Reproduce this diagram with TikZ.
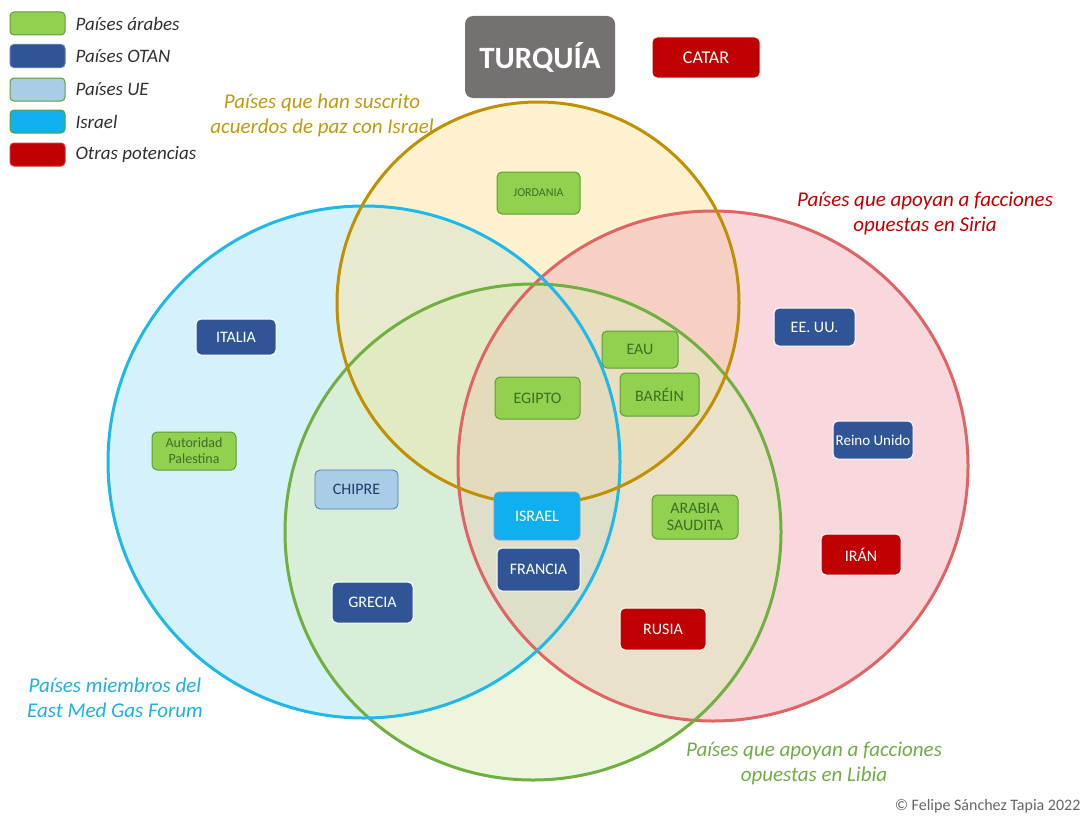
\documentclass[tikz,border=0pt]{standalone}
\usepackage{fontspec}
\setmainfont{Carlito}
\definecolor{cBlueF}{HTML}{ACE4F7}
\definecolor{cYelF}{HTML}{FBE3A1}
\definecolor{cRedF}{HTML}{F1B1B9}
\definecolor{cGrnF}{HTML}{DCEBB9}
\definecolor{cBlueL}{HTML}{1FB8EA}
\definecolor{cYelL}{HTML}{C09000}
\definecolor{cRedL}{HTML}{E06464}
\definecolor{cGrnL}{HTML}{70B040}
\definecolor{arab}{HTML}{92D050}
\definecolor{arabB}{HTML}{5E9E34}
\definecolor{arabT}{HTML}{3E6E22}
\definecolor{otan}{HTML}{2F5597}
\definecolor{ue}{HTML}{A9CDE6}
\definecolor{ueB}{HTML}{4A7AC0}
\definecolor{isr}{HTML}{10B0F0}
\definecolor{otra}{HTML}{C00000}
\definecolor{turq}{HTML}{767171}
\definecolor{legT}{HTML}{303030}
\definecolor{labY}{HTML}{C09A10}
\definecolor{labR}{HTML}{C00000}
\definecolor{labB}{HTML}{20B0E0}
\definecolor{labG}{HTML}{70AD47}
\tikzset{
  box/.style={rounded corners=5pt, minimum width=#1, inner sep=1pt, align=center, font=\fontsize{16}{17}\selectfont},
  arabbox/.style={box=#1, fill=arab, draw=arabB, line width=1pt, text=arabT},
  otanbox/.style={box=#1, fill=otan, draw=white, line width=1pt, text=white},
  uebox/.style={box=#1, fill=ue, draw=ueB, line width=0.8pt, text=otan!70!black},
  isrbox/.style={box=#1, fill=isr, draw=otan!60, line width=0.8pt, text=white},
  otrabox/.style={box=#1, fill=otra, draw=white, line width=1pt, text=white},
  legbox/.style={rounded corners=4pt, minimum width=55pt, minimum height=23pt, line width=1pt},
  legtext/.style={anchor=west, font=\itshape\fontsize{19}{20}\selectfont, text=legT},
  setlab/.style={align=center, font=\itshape\fontsize{21}{25}\selectfont},
  circ/.style={line width=3pt}
}
\begin{document}
\begin{tikzpicture}[x=1pt,y=-1pt]
\useasboundingbox (0,0) rectangle (1086,816);
% circle fills
\begin{scope}[fill opacity=0.5]
\fill[cBlueF] (364,462) circle (256);
\fill[cYelF] (538,303) circle (201);
\fill[cRedF] (713,466) circle (255);
\fill[cGrnF] (533,532) circle (248);
\end{scope}
% circle outlines
\draw[circ, cRedL] (713,466) circle (255);
\draw[circ, cGrnL] (533,532) circle (248);
\draw[circ, cBlueL] (364,462) circle (256);
\draw[circ, cYelL] (538,303) circle (201);
% legend
\node[legbox, fill=arab, draw=arabB] (l1) at (37.5,23.5) {};
\node[legbox, fill=otan, draw=otan!80] (l2) at (37.5,56) {};
\node[legbox, fill=ue, draw=arabB] (l3) at (37.5,89.5) {};
\node[legbox, fill=isr, draw=arabB] (l4) at (37.5,121.5) {};
\node[legbox, fill=otra, draw=otra!80] (l5) at (37.5,154.5) {};
\node[legtext] (t1) at (72,23.5) {Países árabes};
\node[legtext] (t2) at (72,56) {Países OTAN};
\node[legtext] (t3) at (72,89.5) {Países UE};
\node[legtext] (t4) at (72,121.5) {Israel};
\node[legtext] (t5) at (72,154.5) {Otras potencias};
% top boxes
\node[rounded corners=8pt, fill=turq, minimum width=150pt, minimum height=82pt, text=white, font=\bfseries\fontsize{31}{33}\selectfont] (turquia) at (540,57) {TURQUÍA};
\node[otrabox=108pt, minimum height=41pt, font=\fontsize{18}{19}\selectfont] (catar) at (706,57.5) {CATAR};
% country boxes
\node[arabbox=83pt, minimum height=42pt, font=\fontsize{12}{13}\selectfont] (jordania) at (538.5,193) {JORDANIA};
\node[arabbox=76pt, minimum height=37pt] (eau) at (640,349.5) {EAU};
\node[arabbox=79pt, minimum height=43pt] (barein) at (659.5,394.5) {BARÉIN};
\node[arabbox=85pt, minimum height=42pt] (egipto) at (537.5,398) {EGIPTO};
\node[otanbox=80pt, minimum height=36pt] (italia) at (236,337) {ITALIA};
\node[arabbox=84pt, minimum height=38pt, font=\fontsize{14}{16}\selectfont] (ap) at (194,451) {Autoridad\\Palestina};
\node[uebox=83pt, minimum height=39pt] (chipre) at (356.5,489.5) {CHIPRE};
\node[otanbox=81pt, minimum height=41pt] (grecia) at (372.5,602.5) {GRECIA};
\node[isrbox=86pt, minimum height=48pt] (israel) at (537,516) {ISRAEL};
\node[otanbox=83pt, minimum height=43pt] (francia) at (538.5,569.5) {FRANCIA};
\node[arabbox=86pt, minimum height=44pt, font=\fontsize{16}{17}\selectfont] (arabia) at (695,517) {ARABIA\\SAUDITA};
\node[otrabox=86pt, minimum height=42pt] (rusia) at (663,629) {RUSIA};
\node[otanbox=81pt, minimum height=38pt] (eeuu) at (814.5,327) {EE. UU.};
\node[otanbox=80pt, minimum height=38pt, font=\fontsize{15}{16}\selectfont] (reino) at (873,440) {Reino Unido};
\node[otrabox=80pt, minimum height=41pt] (iran) at (861,554.5) {IRÁN};
% set labels
\node[setlab, text=labY] (labpaz) at (322,115) {Países que han suscrito\\acuerdos de paz con Israel};
\node[setlab, text=labR] (labsiria) at (925,213) {Países que apoyan a facciones\\opuestas en Siria};
\node[setlab, text=labB] (labgas) at (115,698) {Países miembros del\\East Med Gas Forum};
\node[setlab, text=labG] (lablibia) at (814,763) {Países que apoyan a facciones\\opuestas en Libia};
\node[anchor=east, text=black!60, font=\fontsize{16}{17}\selectfont] (copy) at (1084,806) {© Felipe Sánchez Tapia 2022};
\end{tikzpicture}
\end{document}
